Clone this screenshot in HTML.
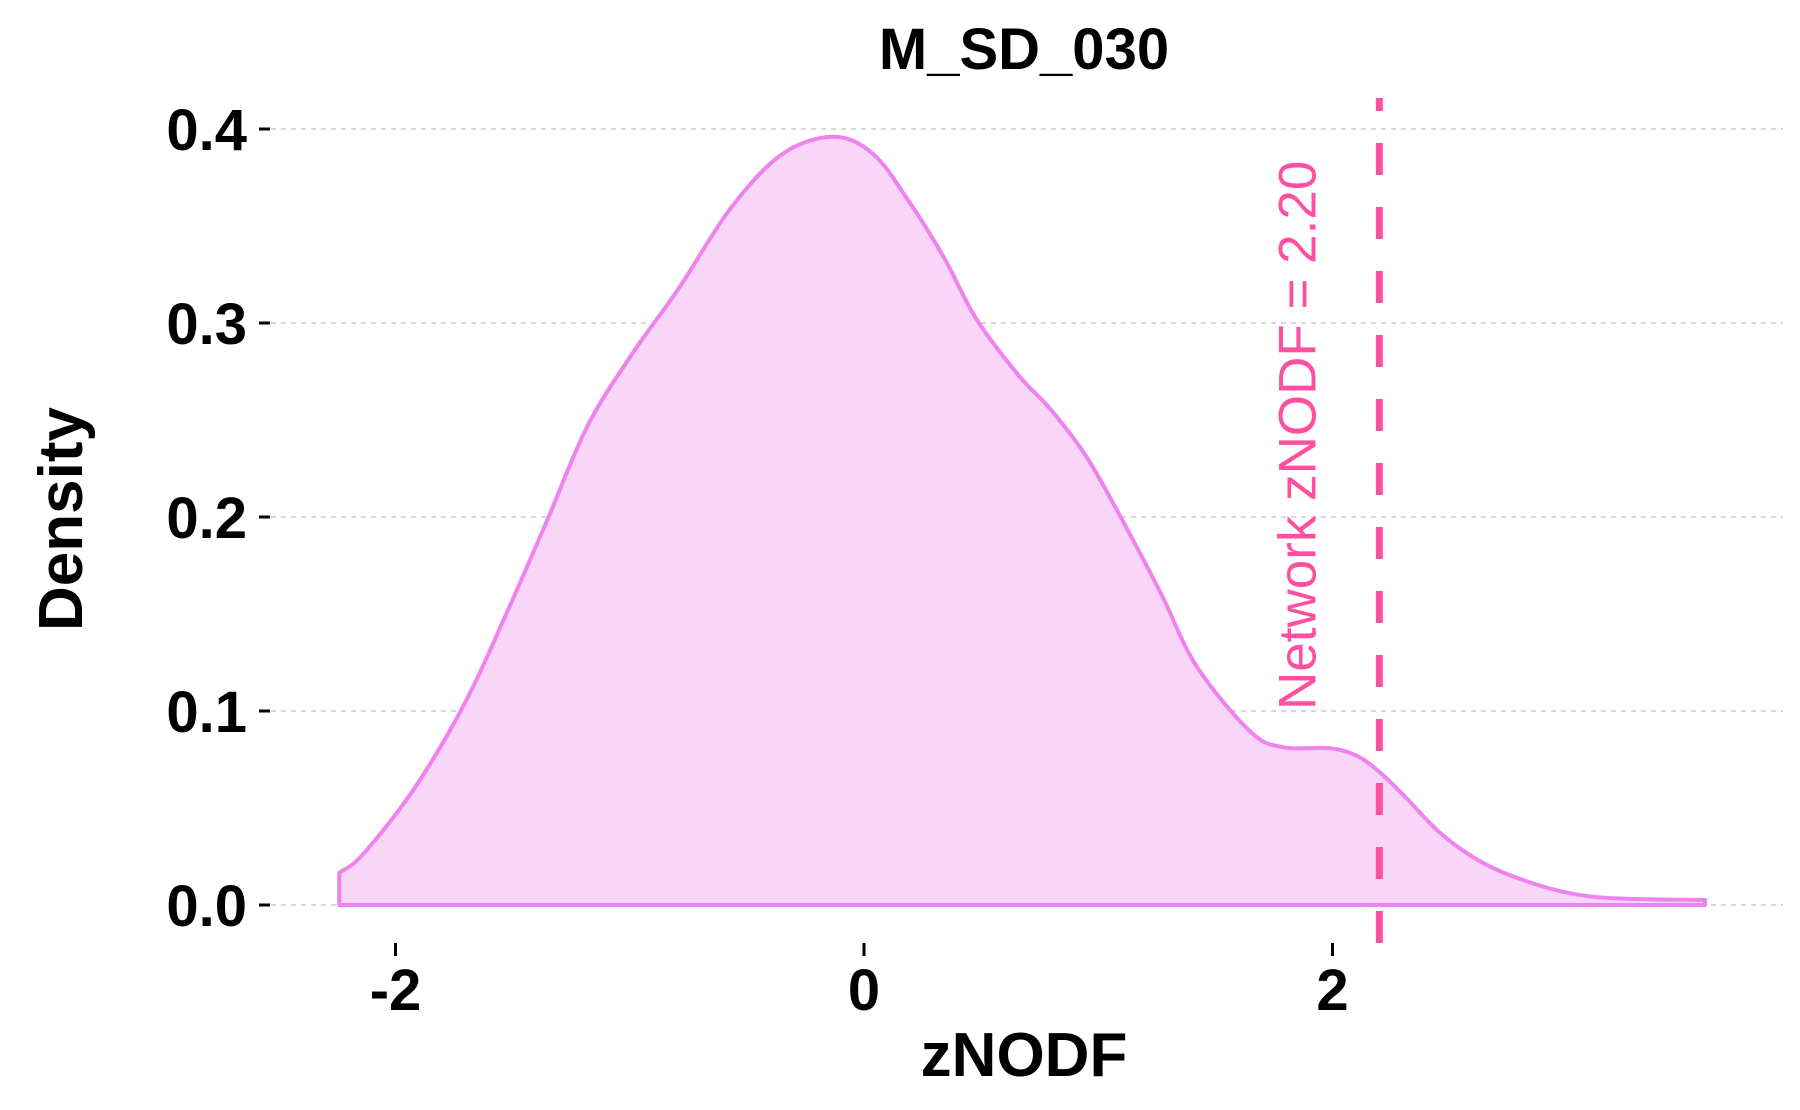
<!DOCTYPE html>
<html><head><meta charset="utf-8"><style>
html,body{margin:0;padding:0;background:#fff;}
svg{display:block;font-family:"Liberation Sans",sans-serif;}
</style></head><body>
<svg id="chart" width="1800" height="1110" viewBox="0 0 1800 1110" xmlns="http://www.w3.org/2000/svg">
<rect x="0" y="0" width="1800" height="1110" fill="#fff"/>
<g id="grid"></g>
<g id="plot"></g>
<g id="axes"></g>
<text x="1024" y="69" text-anchor="middle" font-weight="bold" font-size="58">M_SD_030</text>
<text x="1024" y="1076" text-anchor="middle" font-weight="bold" font-size="62">zNODF</text>
<text transform="translate(82,519) rotate(-90)" text-anchor="middle" font-weight="bold" font-size="62">Density</text>
</svg>
<script>
const densityX = [-2.24,-2.14,-1.92,-1.70,-1.52,-1.35,-1.18,-0.99,-0.79,-0.57,-0.35,-0.13,0.04,0.19,0.34,0.48,0.66,0.80,0.95,1.10,1.27,1.42,1.65,1.79,1.99,2.11,2.21,2.31,2.46,2.62,2.79,3.00,3.21,3.59];
const densityY = [0.0166,0.026,0.060,0.105,0.152,0.199,0.247,0.284,0.318,0.359,0.387,0.396,0.387,0.363,0.334,0.302,0.273,0.255,0.231,0.199,0.160,0.123,0.0893,0.0813,0.0808,0.0765,0.0675,0.0558,0.0371,0.0232,0.0139,0.0064,0.0034,0.0026];
const xTicks = [-2,0,2];
const xTickLabels = ["-2","0","2"];
const yTicks = [0,0.1,0.2,0.3,0.4];
const yTickLabels = ["0.0","0.1","0.2","0.3","0.4"];
const networkValue = [2.20];
const networkLabel = ["Network zNODF = 2.20"];

const NS="http://www.w3.org/2000/svg";
const sx = v => 864 + v*234.25;
const sy = v => 905 - v*1940;
function mk(tag, attrs, parent){const e=document.createElementNS(NS,tag);for(const k in attrs)e.setAttribute(k,attrs[k]);parent.appendChild(e);return e;}
const grid=document.getElementById('grid'), plot=document.getElementById('plot'), axes=document.getElementById('axes');

yTicks.forEach((t,i)=>{
  const g=mk('line',{x1:271,x2:1783,y1:sy(t),y2:sy(t),stroke:'#cccccc','stroke-width':1.5,'stroke-dasharray':'5,5'},grid);
  
  
  const tk=mk('line',{x1:259,x2:270,y1:sy(t),y2:sy(t),stroke:'#000','stroke-width':3},axes);
  
  
  const tx=mk('text',{x:247,y:sy(t)+21,'text-anchor':'end','font-weight':'bold','font-size':58},axes);
  tx.textContent=yTickLabels[i];
  
  
});
xTicks.forEach((t,i)=>{
  const tk=mk('line',{x1:sx(t),x2:sx(t),y1:943,y2:956,stroke:'#000','stroke-width':3},axes);
  
  
  const tx=mk('text',{x:sx(t),y:1010,'text-anchor':'middle','font-weight':'bold','font-size':58},axes);
  tx.textContent=xTickLabels[i];
  
  
});

const pts=densityX.map((x,i)=>[sx(x),sy(densityY[i])]);
let d=`M${pts[0][0]},${pts[0][1]}`;
for(let i=0;i<pts.length-1;i++){
  const p0=pts[Math.max(0,i-1)],p1=pts[i],p2=pts[i+1],p3=pts[Math.min(pts.length-1,i+2)];
  const c1=[p1[0]+(p2[0]-p0[0])/6,p1[1]+(p2[1]-p0[1])/6];
  const c2=[p2[0]-(p3[0]-p1[0])/6,p2[1]-(p3[1]-p1[1])/6];
  d+=` C${c1[0]},${c1[1]} ${c2[0]},${c2[1]} ${p2[0]},${p2[1]}`;
}
const last=pts[pts.length-1], first=pts[0];
const full=d+` L${last[0]},${sy(0)} L${first[0]},${sy(0)} Z`;
const area=mk('path',{d:full,fill:'#f9d6f8',stroke:'#ee82ee','stroke-width':4,'stroke-linejoin':'round'},plot);



const vx=sx(networkValue[0]);
const vl=mk('line',{x1:vx,x2:vx,y1:98,y2:943,stroke:'#ff4fa0','stroke-width':7,'stroke-dasharray':'32,32','stroke-dashoffset':'-45'},plot);


const lab=mk('text',{transform:`translate(${vx-64},710) rotate(-90)`,'text-anchor':'start','font-size':53,fill:'#ff4fa0'},plot);
lab.textContent=networkLabel[0];


</script>
</body></html>
